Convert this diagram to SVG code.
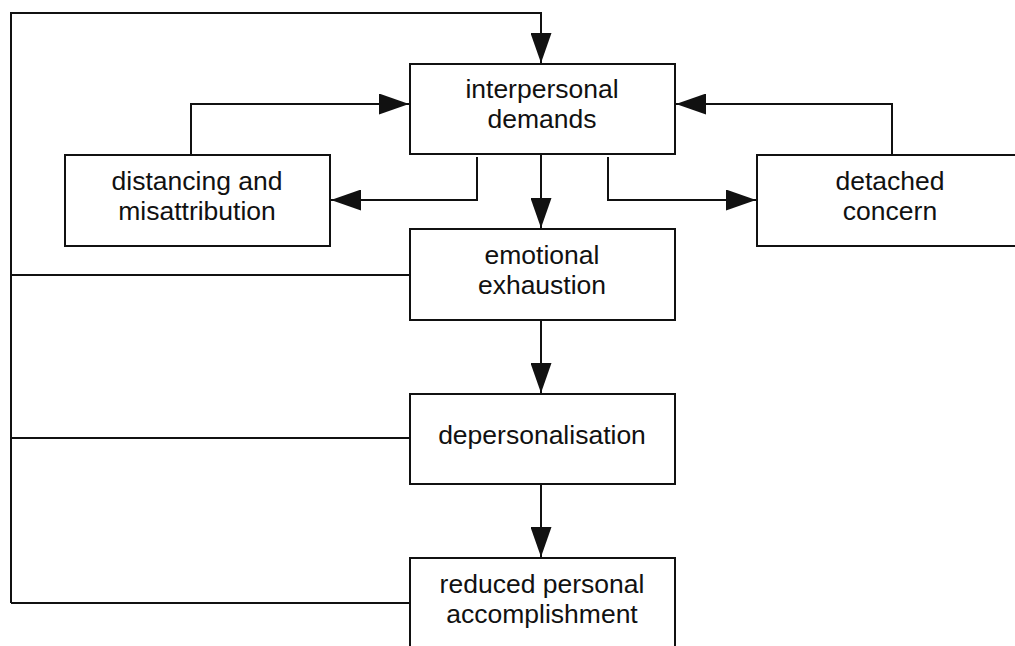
<svg xmlns="http://www.w3.org/2000/svg" width="1015" height="646" viewBox="0 0 1015 646">
  <style>
    .box { fill: #ffffff; stroke: #111111; stroke-width: 2; }
    .lbl { font-family: "Liberation Sans", Arial, sans-serif; font-size: 26.5px; fill: #111111; text-anchor: middle; }
    .wire { fill: none; stroke: #111111; stroke-width: 2; }
    .arr { marker-end: url(#head); }
  </style>
  <defs>
    <marker id="head" markerUnits="userSpaceOnUse" markerWidth="30" markerHeight="21" refX="30" refY="10.5" orient="auto" viewBox="0 0 30 21">
      <path d="M0,0 L30,10.5 L0,21 Z" fill="#111111"/>
    </marker>
  </defs>
  <rect width="1015" height="646" fill="#ffffff"/>

  <g id="connectors">
    <!-- outer feedback loop into interpersonal demands -->
    <path class="wire arr" d="M11,603 L11,13 L541,13 L541,63"/>
    <path class="wire" d="M11,275 L410,275"/>
    <path class="wire" d="M11,438 L410,438"/>
    <path class="wire" d="M11,603 L410,603"/>
    <!-- coping loops -->
    <path class="wire arr" d="M191,155 L191,104 L409,104"/>
    <path class="wire arr" d="M892,155 L892,104 L676,104"/>
    <path class="wire arr" d="M477,157 L477,200 L331,200"/>
    <path class="wire arr" d="M608,157 L608,200 L756,200"/>
    <!-- main chain -->
    <path class="wire arr" d="M541,154 L541,228"/>
    <path class="wire arr" d="M541,321 L541,393"/>
    <path class="wire arr" d="M541,485 L541,557"/>
  </g>

  <g id="interpersonal-demands">
    <rect class="box" x="410" y="64" width="265" height="90"/>
    <text class="lbl" x="542" y="98">interpersonal</text>
    <text class="lbl" x="542" y="128">demands</text>
  </g>
  <g id="distancing">
    <rect class="box" x="65" y="155" width="265" height="91"/>
    <text class="lbl" x="197" y="190">distancing and</text>
    <text class="lbl" x="197" y="220">misattribution</text>
  </g>
  <g id="detached-concern">
    <rect class="box" x="757" y="155" width="266" height="91"/>
    <text class="lbl" x="890" y="190">detached</text>
    <text class="lbl" x="890" y="220">concern</text>
  </g>
  <g id="emotional-exhaustion">
    <rect class="box" x="410" y="229" width="265" height="91"/>
    <text class="lbl" x="542" y="264">emotional</text>
    <text class="lbl" x="542" y="294">exhaustion</text>
  </g>
  <g id="depersonalisation">
    <rect class="box" x="410" y="394" width="265" height="90"/>
    <text class="lbl" x="542" y="444">depersonalisation</text>
  </g>
  <g id="reduced-accomplishment">
    <rect class="box" x="410" y="558" width="265" height="91"/>
    <text class="lbl" x="542" y="593">reduced personal</text>
    <text class="lbl" x="542" y="623">accomplishment</text>
  </g>
</svg>
